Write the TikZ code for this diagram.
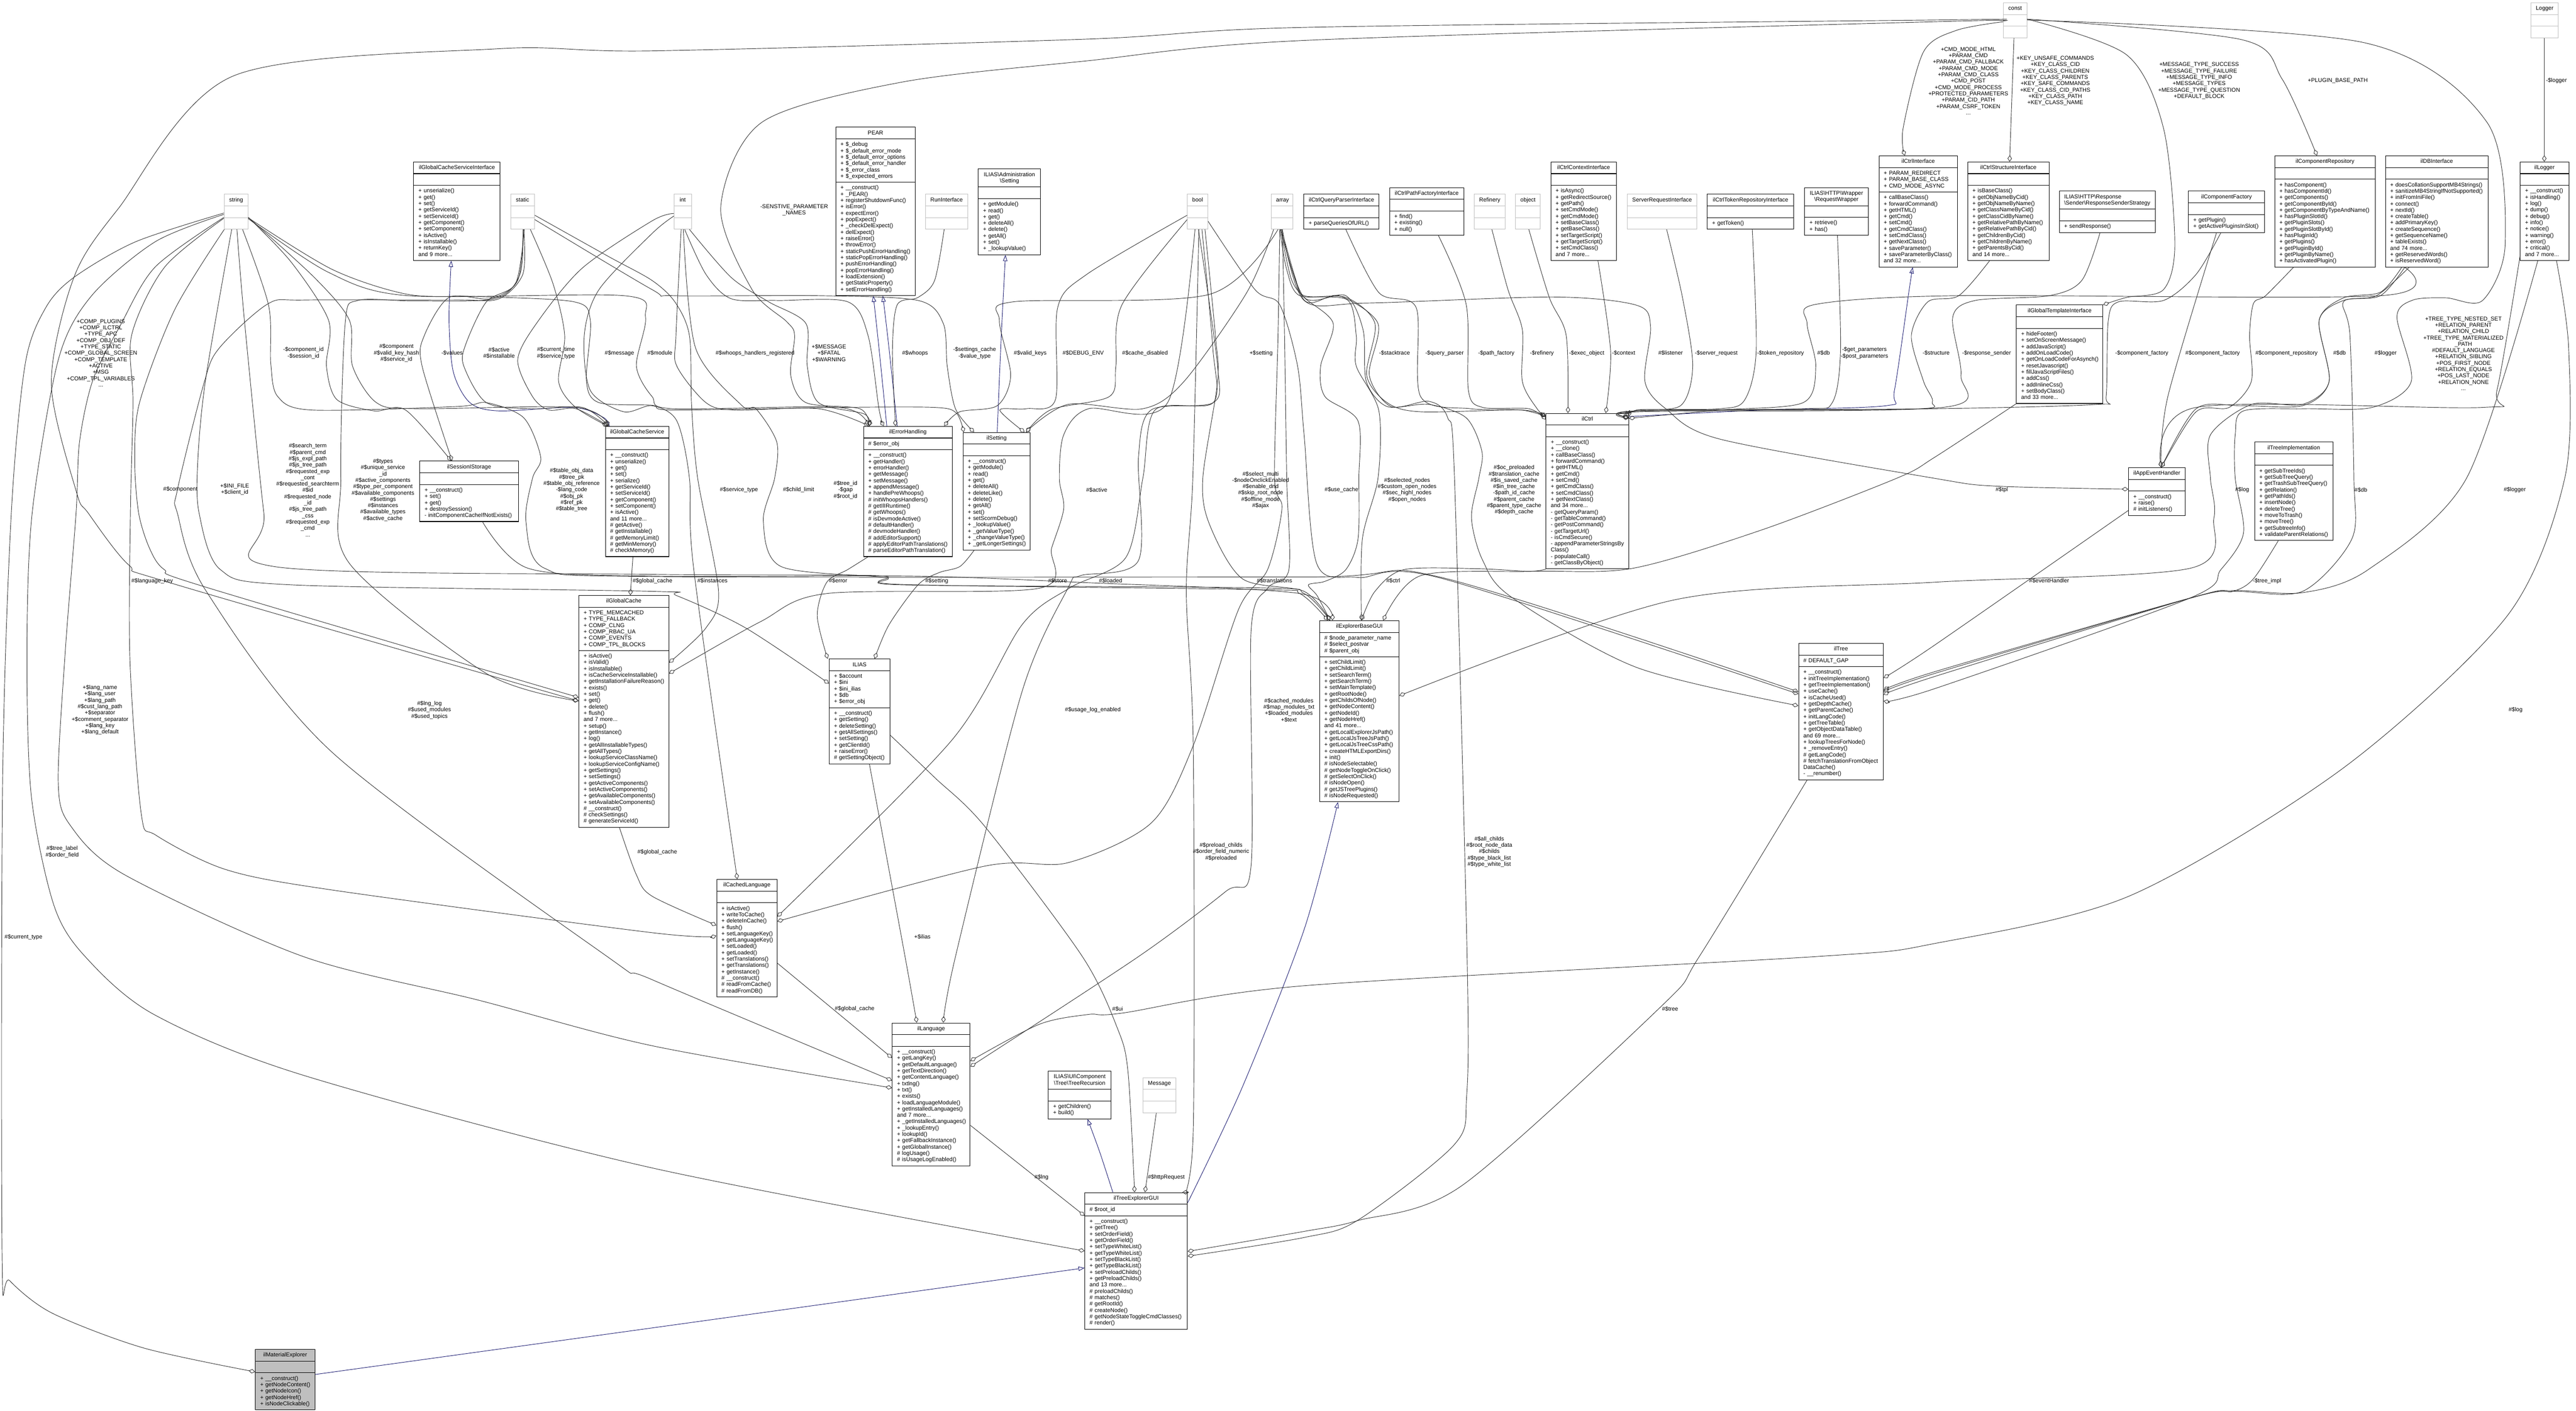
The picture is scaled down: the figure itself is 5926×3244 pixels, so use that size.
\documentclass[tikz,border=0pt]{standalone}
\usepackage{fontspec}
\setmainfont{Liberation Sans}
\usetikzlibrary{arrows.meta,shapes.multipart}

\newcommand{\umlfont}{\fontsize{6.5pt}{7.3pt}\selectfont}
\newcommand{\umlst}{\rule[-1.9pt]{0pt}{7.3pt}}
\newcommand{\umlleft}{\raggedright\rightskip=-30pt plus 1fil\relax}
\newcommand{\umlclass}[7][]{%
  \pgfmathsetmacro{\umlw}{#4*0.5-11}%
  \node[umlclass,text width=\umlw pt,#1] (#2) at (#3) {\centering\umlst #5\umlst\par
    \nodepart{two}\umlleft\umlst #6\umlst\par
    \nodepart{three}\umlleft\umlst #7\umlst\par};}

\definecolor{edgeblue}{RGB}{25,25,112}
\tikzset{
  umlclass/.style={draw=black,line width=.6pt,rectangle split,rectangle split parts=3,anchor=north west,
    inner xsep=5.5pt,inner ysep=2.75pt,font=\umlfont},
  grayclass/.style={draw=black!25},
  focusclass/.style={rectangle split part fill={black!25}},
  edgelabel/.style={font=\umlfont,align=center,inner sep=0pt},
  uses/.style={draw=black!80,line width=.55pt,smooth,tension=.5,-{Diamond[open,length=7.5pt,width=5pt]}},
  derives/.style={draw=edgeblue,line width=.55pt,smooth,tension=.5,-{Triangle[open,length=7pt,width=5pt]}},
}

\begin{document}
\begin{tikzpicture}[x=0.5pt,y=-0.5pt]
\useasboundingbox (0,0) rectangle (5926,3244);

% classes
\umlclass[grayclass]{string}{515,446}{55}{string}{}{}
\umlclass{cacheIface}{951,372}{199}{ilGlobalCacheServiceInterface}{}{+ unserialize()\\+ get()\\+ set()\\+ getServiceId()\\+ setServiceId()\\+ getComponent()\\+ setComponent()\\+ isActive()\\+ isInstallable()\\+ returnKey()\\and 9 more...}
\umlclass[grayclass]{static}{1174,446}{55}{static}{}{}
\umlclass{sessionStorage}{965,1060}{227}{ilSessionIStorage}{}{+ \_\_construct()\\+ set()\\+ get()\\+ destroySession()\\- initComponentCacheIfNotExists()}
\umlclass{cacheService}{1392,980}{146}{ilGlobalCacheService}{}{+ \_\_construct()\\+ unserialize()\\+ get()\\+ set()\\+ serialize()\\+ getServiceId()\\+ setServiceId()\\+ getComponent()\\+ setComponent()\\+ isActive()\\and 11 more...\\\# getActive()\\\# getInstallable()\\\# getMemoryLimit()\\\# getMinMemory()\\\# checkMemory()}
\umlclass{globalCache}{1331,1369}{207}{ilGlobalCache}{+ TYPE\_MEMCACHED\\+ TYPE\_FALLBACK\\+ COMP\_CLNG\\+ COMP\_RBAC\_UA\\+ COMP\_EVENTS\\+ COMP\_TPL\_BLOCKS}{+ isActive()\\+ isValid()\\+ isInstallable()\\+ isCacheServiceInstallable()\\+ getInstallationFailureReason()\\+ exists()\\+ set()\\+ get()\\+ delete()\\+ flush()\\and 7 more...\\+ setup()\\+ getInstance()\\+ log()\\+ getAllInstallableTypes()\\+ getAllTypes()\\+ lookupServiceClassName()\\+ lookupServiceConfigName()\\+ getSettings()\\+ setSettings()\\+ getActiveComponents()\\+ setActiveComponents()\\+ getAvailableComponents()\\+ setAvailableComponents()\\\# \_\_construct()\\\# checkSettings()\\\# generateServiceId()}
\umlclass[grayclass]{int}{1550,446}{40}{int}{}{}
\umlclass{pear}{1922,292}{183}{PEAR}{+ \$\_debug\\+ \$\_default\_error\_mode\\+ \$\_default\_error\_options\\+ \$\_default\_error\_handler\\+ \$\_error\_class\\+ \$\_expected\_errors}{+ \_\_construct()\\+ \_PEAR()\\+ registerShutdownFunc()\\+ isError()\\+ expectError()\\+ popExpect()\\+ \_checkDelExpect()\\+ delExpect()\\+ raiseError()\\+ throwError()\\+ staticPushErrorHandling()\\+ staticPopErrorHandling()\\+ pushErrorHandling()\\+ popErrorHandling()\\+ loadExtension()\\+ getStaticProperty()\\+ setErrorHandling()}
\umlclass[grayclass]{runIface}{2128,446}{98}{RunInterface}{}{}
\umlclass{adminSetting}{2250,388}{143}{ILIAS\textbackslash Administration\\\textbackslash Setting}{}{+ getModule()\\+ read()\\+ get()\\+ deleteAll()\\+ delete()\\+ getAll()\\+ set()\\+ \_lookupValue()}
\umlclass[grayclass]{bool}{2731,446}{47}{bool}{}{}
\umlclass[grayclass]{array}{2924,446}{50}{array}{}{}
\umlclass{errorHandling}{1986,980}{204}{ilErrorHandling}{\# \$error\_obj}{+ \_\_construct()\\+ getHandler()\\+ errorHandler()\\+ getMessage()\\+ setMessage()\\+ appendMessage()\\+ handlePreWhoops()\\\# initWhoopsHandlers()\\\# getIlIRuntime()\\\# getWhoops()\\\# isDevmodeActive()\\\# defaultHandler()\\\# devmodeHandler()\\\# addEditorSupport()\\\# applyEditorPathTranslations()\\\# parseEditorPathTranslation()}
\umlclass{ilSetting}{2215,994}{154}{ilSetting}{}{+ \_\_construct()\\+ getModule()\\+ read()\\+ get()\\+ deleteAll()\\+ deleteLike()\\+ delete()\\+ getAll()\\+ set()\\+ setScormDebug()\\+ \_lookupValue()\\+ \_getValueType()\\+ \_changeValueType()\\+ \_getLongerSettings()}
\umlclass{ilias}{1907,1515}{140}{ILIAS}{+ \$account\\+ \$ini\\+ \$ini\_ilias\\+ \$db\\+ \$error\_obj}{+ \_\_construct()\\+ getSetting()\\+ deleteSetting()\\+ getAllSettings()\\+ setSetting()\\+ getClientId()\\+ raiseError()\\\# getSettingObject()}
\umlclass{cachedLang}{1648,2022}{139}{ilCachedLanguage}{}{+ isActive()\\+ writeToCache()\\+ deleteInCache()\\+ flush()\\+ setLanguageKey()\\+ getLanguageKey()\\+ setLoaded()\\+ getLoaded()\\+ setTranslations()\\+ getTranslations()\\+ getInstance()\\\# \_\_construct()\\\# readFromCache()\\\# readFromDB()}
\umlclass{language}{2052,2352}{179}{ilLanguage}{}{+ \_\_construct()\\+ getLangKey()\\+ getDefaultLanguage()\\+ getTextDirection()\\+ getContentLanguage()\\+ txtlng()\\+ txt()\\+ exists()\\+ loadLanguageModule()\\+ getInstalledLanguages()\\and 7 more...\\+ \_getInstalledLanguages()\\+ \_lookupEntry()\\+ lookupId()\\+ getFallbackInstance()\\+ getGlobalInstance()\\\# logUsage()\\\# isUsageLogEnabled()}
\umlclass{treeRecursion}{2411,2463}{144}{ILIAS\textbackslash UI\textbackslash Component\\\textbackslash Tree\textbackslash TreeRecursion}{}{+ getChildren()\\+ build()}
\umlclass[grayclass]{message}{2629,2478}{75}{Message}{}{}
\umlclass{treeExplorer}{2495,2742}{236}{ilTreeExplorerGUI}{\# \$root\_id}{+ \_\_construct()\\+ getTree()\\+ setOrderField()\\+ getOrderField()\\+ setTypeWhiteList()\\+ getTypeWhiteList()\\+ setTypeBlackList()\\+ getTypeBlackList()\\+ setPreloadChilds()\\+ getPreloadChilds()\\and 13 more...\\\# preloadChilds()\\\# matches()\\\# getRootId()\\\# createNode()\\\# getNodeStateToggleCmdClasses()\\\# render()}
\umlclass[focusclass,fill=black!25]{materialExplorer}{587,3103}{137}{ilMaterialExplorer}{}{+ \_\_construct()\\+ getNodeContent()\\+ getNodeIcon()\\+ getNodeHref()\\+ isNodeClickable()}
\umlclass{queryParser}{2999,446}{173}{ilCtrlQueryParserInterface}{}{+ parseQueriesOfURL()}
\umlclass{pathFactory}{3196,431}{171}{ilCtrlPathFactoryInterface}{}{+ find()\\+ existing()\\+ null()}
\umlclass[grayclass]{refinery}{3391,446}{71}{Refinery}{}{}
\umlclass[grayclass]{object}{3486,446}{57}{object}{}{}
\umlclass{ctrlContext}{3567,372}{151}{ilCtrlContextInterface}{}{+ isAsync()\\+ getRedirectSource()\\+ getPath()\\+ setCmdMode()\\+ getCmdMode()\\+ setBaseClass()\\+ getBaseClass()\\+ setTargetScript()\\+ getTargetScript()\\+ setCmdClass()\\and 7 more...}
\umlclass[grayclass]{serverRequest}{3743,446}{160}{ServerRequestInterface}{}{}
\umlclass{tokenRepo}{3927,446}{199}{ilCtrlTokenRepositoryInterface}{}{+ getToken()}
\umlclass{requestWrapper}{4151,431}{146}{ILIAS\textbackslash HTTP\textbackslash Wrapper\\\textbackslash RequestWrapper}{}{+ retrieve()\\+ has()}
\umlclass{ctrlIface}{4322,358}{180}{ilCtrlInterface}{+ PARAM\_REDIRECT\\+ PARAM\_BASE\_CLASS\\+ CMD\_MODE\_ASYNC}{+ callBaseClass()\\+ forwardCommand()\\+ getHTML()\\+ getCmd()\\+ setCmd()\\+ getCmdClass()\\+ setCmdClass()\\+ getNextClass()\\+ saveParameter()\\+ saveParameterByClass()\\and 32 more...}
\umlclass{ctrl}{3556,950}{190}{ilCtrl}{}{+ \_\_construct()\\+ \_\_clone()\\+ callBaseClass()\\+ forwardCommand()\\+ getHTML()\\+ getCmd()\\+ setCmd()\\+ getCmdClass()\\+ setCmdClass()\\+ getNextClass()\\and 34 more...\\- getQueryParam()\\- getTableCommand()\\- getPostCommand()\\- getTargetUrl()\\- isCmdSecure()\\- appendParameterStringsBy\\Class()\\- populateCall()\\- getClassByObject()}
\umlclass{explorerBase}{3035,1427}{183}{ilExplorerBaseGUI}{\# \$node\_parameter\_name\\\# \$select\_postvar\\\# \$parent\_obj}{+ setChildLimit()\\+ getChildLimit()\\+ setSearchTerm()\\+ getSearchTerm()\\+ setMainTemplate()\\+ getRootNode()\\+ getChildsOfNode()\\+ getNodeContent()\\+ getNodeId()\\+ getNodeHref()\\and 41 more...\\+ getLocalExplorerJsPath()\\+ getLocalJsTreeJsPath()\\+ getLocalJsTreeCssPath()\\+ createHTMLExportDirs()\\+ init()\\\# isNodeSelectable()\\\# getNodeToggleOnClick()\\\# getSelectOnClick()\\\# isNodeOpen()\\\# getJSTreePlugins()\\\# isNodeRequested()}
\umlclass{tree}{4137,1479}{195}{ilTree}{\# DEFAULT\_GAP}{+ \_\_construct()\\+ initTreeImplementation()\\+ getTreeImplementation()\\+ useCache()\\+ isCacheUsed()\\+ getDepthCache()\\+ getParentCache()\\+ initLangCode()\\+ getTreeTable()\\+ getObjectDataTable()\\and 69 more...\\+ lookupTreesForNode()\\+ \_removeEntry()\\\# getLangCode()\\\# fetchTranslationFromObject\\DataCache()\\- \_\_renumber()}
\umlclass[grayclass]{const}{4608,6}{54}{const}{}{}
\umlclass[grayclass]{logger}{5822,6}{62}{Logger}{}{}
\umlclass{ctrlStructure}{4526,372}{187}{ilCtrlStructureInterface}{}{+ isBaseClass()\\+ getObjNameByCid()\\+ getObjNameByName()\\+ getClassNameByCid()\\+ getClassCidByName()\\+ getRelativePathByName()\\+ getRelativePathByCid()\\+ getChildrenByCid()\\+ getChildrenByName()\\+ getParentsByCid()\\and 14 more...}
\umlclass{responseSender}{4737,439}{221}{\raggedright ILIAS\textbackslash HTTP\textbackslash Response\\\textbackslash Sender\textbackslash ResponseSenderStrategy}{}{+ sendResponse()}
\umlclass{componentFactory}{5034,439}{175}{ilComponentFactory}{}{+ getPlugin()\\+ getActivePluginsInSlot()}
\umlclass{componentRepo}{5232,358}{232}{ilComponentRepository}{}{+ hasComponent()\\+ hasComponentId()\\+ getComponents()\\+ getComponentById()\\+ getComponentByTypeAndName()\\+ hasPluginSlotId()\\+ getPluginSlots()\\+ getPluginSlotById()\\+ hasPluginId()\\+ getPlugins()\\+ getPluginById()\\+ getPluginByName()\\+ hasActivatedPlugin()}
\umlclass{dbIface}{5487,358}{236}{ilDBInterface}{}{+ doesCollationSupportMB4Strings()\\+ sanitizeMB4StringIfNotSupported()\\+ initFromIniFile()\\+ connect()\\+ nextId()\\+ createTable()\\+ addPrimaryKey()\\+ createSequence()\\+ getSequenceName()\\+ tableExists()\\and 74 more...\\+ getReservedWords()\\+ isReservedWord()}
\umlclass{ilLogger}{5797,372}{112}{ilLogger}{}{+ \_\_construct()\\+ isHandling()\\+ log()\\+ dump()\\+ debug()\\+ info()\\+ notice()\\+ warning()\\+ error()\\+ critical()\\and 7 more...}
\umlclass{templateIface}{4638,701}{199}{ilGlobalTemplateInterface}{}{+ hideFooter()\\+ setOnScreenMessage()\\+ addJavaScript()\\+ addOnLoadCode()\\+ getOnLoadCodeForAsynch()\\+ resetJavascript()\\+ fillJavaScriptFiles()\\+ addCss()\\+ addInlineCss()\\+ setBodyClass()\\and 33 more...}
\umlclass{eventHandler}{4896,1075}{130}{ilAppEventHandler}{}{+ \_\_construct()\\+ raise()\\\# initListeners()}
\umlclass{treeImpl}{5186,1016}{180}{ilTreeImplementation}{}{+ getSubTreeIds()\\+ getSubTreeQuery()\\+ getTrashSubTreeQuery()\\+ getRelation()\\+ getPathIds()\\+ insertNode()\\+ deleteTree()\\+ moveToTrash()\\+ moveTree()\\+ getSubtreeInfo()\\+ validateParentRelations()}

% inheritance
\draw[derives] plot coordinates {(cacheService.north -| 1402,0) (1388,960) (1320,937) (1148,945) (1081,926) (1043,856) (1033,737) (cacheIface.south -| 1038,0)};
\draw[derives] plot coordinates {(errorHandling.north -| 2040,0) (2022,800) (pear.south -| 2009,0)};
\draw[derives] plot coordinates {(errorHandling.north -| 2064,0) (2045,800) (pear.south -| 2031,0)};
\draw[derives] plot coordinates {(ilSetting.north -| 2294,0) (2303,780) (adminSetting.south -| 2313,0)};
\draw[derives] plot coordinates {(ctrl.east |- 0,958) (4052,943) (4339,933) (4358,898) (4392,666) (ctrlIface.south -| 4400,0)};
\draw[derives] plot coordinates {(treeExplorer.north -| 2560,0) (2530,2650) (treeRecursion.south -| 2502,0)};
\draw[derives] plot coordinates {(treeExplorer.east |- 0,2766) (2858,2500) (3000,2138) (explorerBase.south -| 3078,0)};
\draw[derives] plot coordinates {(materialExplorer.east |- 0,3161) (1500,3054) (treeExplorer.west |- 0,2916)};

% string
\draw[uses] plot coordinates {(string.west |- 0,490) (312,556) (170,638) (105,708) (58,837) (26,1180) (6,1801) (5,2900) (22,2945) (120,3020) (330,3100) (materialExplorer.west |- 0,3155)};
\draw[uses] plot coordinates {(string.west |- 0,493) (357,556) (210,681) (134,828) (74,1180) (62,1500) (72,1830) (124,2082) (196,2200) (354,2333) (698,2473) (1500,2686) (treeExplorer.west |- 0,2877)};
\draw[uses] plot coordinates {(string.west |- 0,500) (357,614) (277,748) (214,873) (183,1016) (175,1180) (150,1500) (134,1801) (163,1900) (287,2012) (698,2200) (1100,2300) (1500,2405) (language.west |- 0,2502)};
\draw[uses] plot coordinates {(string.west |- 0,502) (379,614) (303,770) (306,926) (300,1180) (299,1520) (325,1872) (359,1921) (520,2000) (765,2047) (1500,2145) (cachedLang.west |- 0,2152)};
\draw[uses] plot coordinates {(string.south -| 516,0) (402,712) (321,926) (310,1060) (319,1180) (344,1261) (378,1310) (469,1349) (globalCache.west |- 0,1604)};
\draw[uses] plot coordinates {(string.south -| 533,0) (473,873) (455,1060) (458,1180) (507,1310) (670,1345) (1500,1360) (1557,1370) (1715,1444) (ilias.west |- 0,1572)};
\draw[uses] plot coordinates {(string.south -| 545,0) (562,734) (607,1180) (631,1303) (1500,1321) (2020,1324) (2070,1344) (2900,1356) (2990,1365) (explorerBase.north -| 3055,0)};
\draw[uses] plot coordinates {(string.south -| 558,0) (618,703) (623,837) (639,912) (717,943) (1050,935) (1119,926) (1205,961) (1244,1052) (1225,1100) (1210,1200) (1253,1307) (1500,1326) (3000,1327) (3316,1328) (tree.west |- 0,1591)};
\draw[uses] plot coordinates {(string.east |- 0,500) (670,603) (756,737) (751,842) (775,919) (861,945) (933,943) (sessionStorage.north -| 1038,0)};
\draw[uses] plot coordinates {(string.east |- 0,500) (725,640) (804,737) (811,842) (866,926) (957,940) (1325,937) (cacheService.north -| 1400,0)};
\draw[uses] plot coordinates {(string.east |- 0,501) (765,620) (938,677) (1100,682) (1320,694) (1358,737) (1349,877) (1378,926) (1500,932) (1548,943) (1930,937) (2150,937) (2200,950) (ilSetting.north -| 2217,0)};
\draw[uses] plot coordinates {(string.east |- 0,503) (755,626) (938,680) (1435,680) (1485,729) (1464,842) (1500,912) (1548,940) (1930,937) (errorHandling.north -| 1995,0)};

% static
\draw[uses] plot coordinates {(static.south -| 1205,0) (1203,630) (1148,687) (1050,690) (700,690) (616,699) (504,801) (469,882) (408,1127) (408,1180) (474,1359) (765,1731) (1397,2200) (1500,2253) (language.west |- 0,2485)};
\draw[uses] plot coordinates {(static.south -| 1203,0) (1196,631) (1138,687) (950,692) (823,691) (794,744) (784,1100) (804,1296) (1119,1549) (globalCache.west |- 0,1612)};
\draw[uses] plot coordinates {(static.south -| 1204,0) (1191,645) (1129,687) (1033,684) (976,772) (971,842) (sessionStorage.north -| 1040,0)};
\draw[uses] plot coordinates {(static.south -| 1206,0) (1186,652) (1119,694) (1071,793) (1067,842) (1119,926) (1225,940) (1340,937) (cacheService.north -| 1400,0)};
\draw[uses] plot coordinates {(static.south -| 1220,0) (1272,652) (1299,772) (1285,877) (1322,935) (cacheService.north -| 1398,0)};
\draw[uses] plot coordinates {(static.east |- 0,495) (1400,590) (1500,645) (1553,695) (1586,772) (1591,933) (1605,1100) (1653,1360) (1624,1444) (globalCache.east |- 0,1524)};
\draw[uses] plot coordinates {(static.east |- 0,505) (1500,666) (1548,680) (1883,680) (2112,691) (2170,744) (2179,842) (2198,940) (ilSetting.north -| 2241,0)};
\draw[uses] plot coordinates {(sessionStorage.south -| 1110,0) (1215,1307) (1500,1325) (2100,1325) (2500,1340) (2990,1365) (explorerBase.north -| 3065,0)};

% int
\draw[uses] plot coordinates {(int.west |- 0,491) (1500,508) (1339,617) (1234,744) (1191,828) (1225,912) (1263,943) (1325,940) (cacheService.north -| 1400,0)};
\draw[uses] plot coordinates {(int.west |- 0,497) (1500,537) (1378,666) (1344,772) (1358,898) (1435,947) (1500,933) (1557,968) (1586,1100) (1596,1310) (cachedLang.north -| 1696,0)};
\draw[uses] plot coordinates {(int.south -| 1567,0) (1555,772) (1557,842) (1624,926) (1691,943) (1883,940) (errorHandling.north -| 2000,0)};
\draw[uses] plot coordinates {(int.south -| 1575,0) (1624,631) (1682,687) (1787,691) (1950,694) (1997,772) (2022,940) (errorHandling.north -| 2033,0)};
\draw[uses] plot coordinates {(int.south -| 1586,0) (1682,638) (1768,694) (1854,744) (1857,842) (1883,926) (1988,952) (errorHandling.north -| 2000,0)};
\draw[uses] plot coordinates {(int.south -| 1572,0) (1600,800) (1706,932) (1739,940) (1787,1017) (1782,1100) (1756,1198) (1797,1303) (2036,1328) (2074,1345) (2900,1352) (3000,1365) (explorerBase.north -| 3060,0)};

% single sources into the middle of the picture
\draw[uses] plot coordinates {(runIface.south -| 2172,0) (2150,645) (2112,684) (2064,701) (2053,807) (errorHandling.north -| 2060,0)};
\draw[uses] plot coordinates {(cacheService.south -| 1456,0) (globalCache.north -| 1450,0)};
\draw[uses] plot coordinates {(globalCache.south -| 1425,0) (1464,2012) (1500,2061) (cachedLang.west |- 0,2128)};
\draw[uses] plot coordinates {(errorHandling.south -| 1997,0) (1950,1310) (1902,1339) (1880,1416) (ilias.north -| 1904,0)};
\draw[uses] plot coordinates {(ilSetting.south -| 2241,0) (2208,1303) (2160,1317) (2112,1345) (2045,1437) (ilias.north -| 2012,0)};
\draw[uses] plot coordinates {(ilias.south -| 2000,0) (2082,2200) (language.north -| 2109,0)};
\draw[uses] plot coordinates {(ilias.east |- 0,1691) (2150,1788) (2265,1900) (2490,2200) (2571,2366) (2595,2466) (treeExplorer.north -| 2610,0)};
\draw[uses] plot coordinates {(message.south -| 2660,0) (treeExplorer.north -| 2634,0)};
\draw[uses] plot coordinates {(language.east |- 0,2588) (treeExplorer.west |- 0,2796)};
\draw[uses] plot coordinates {(cachedLang.east |- 0,2215) (language.west |- 0,2433)};
\draw[uses] plot coordinates {(tree.south -| 4157,0) (3909,2200) (3823,2313) (3364,2726) (3124,2807) (3000,2832) (treeExplorer.east |- 0,2878)};

% bool
\draw[uses] plot coordinates {(bool.west |- 0,495) (2500,631) (2433,708) (2428,919) (2361,940) (2300,943) (ilSetting.north -| 2357,0)};
\draw[uses] plot coordinates {(bool.west |- 0,505) (2581,701) (2567,842) (2552,912) (2418,942) (ilSetting.north -| 2361,0)};
\draw[uses] plot coordinates {(bool.south -| 2749,0) (2686,926) (2504,940) (2447,1000) (2437,1100) (2447,1170) (2419,1261) (2390,1353) (1902,1365) (1749,1430) (globalCache.east |- 0,1549)};
\draw[uses] plot coordinates {(bool.south -| 2757,0) (2801,842) (2791,926) (2648,943) (2619,1052) (2619,1289) (2485,1324) (2457,1352) (2351,1591) (2198,2200) (language.north -| 2170,0)};
\draw[uses] plot coordinates {(bool.south -| 2765,0) (2790,800) (2791,926) (2657,943) (2629,1100) (2590,1282) (2461,1352) (2351,1437) (2189,1703) (cachedLang.east |- 0,2108)};
\draw[uses] plot coordinates {(bool.south -| 2772,0) (2796,772) (2801,877) (2767,1100) (2782,1205) (2858,1331) (3000,1360) (explorerBase.north -| 3060,0)};
\draw[uses] plot coordinates {(bool.south -| 2758,0) (2744,1100) (2729,1360) (2745,1717) (2745,2600) (treeExplorer.north -| 2720,0)};
\draw[uses] plot coordinates {(bool.east |- 0,509) (2887,666) (2944,701) (2985,842) (3000,1000) (3029,1296) (3124,1328) (3316,1330) (tree.west |- 0,1596)};

% array
\draw[uses] plot coordinates {(array.south -| 2940,0) (2782,677) (2332,694) (2299,737) (2325,863) (2294,933) (2208,947) (errorHandling.north -| 2172,0)};
\draw[uses] plot coordinates {(array.south -| 2930,0) (2868,673) (2724,877) (2629,940) (2457,930) (ilSetting.north -| 2360,0)};
\draw[uses] plot coordinates {(array.south -| 2944,0) (2940,772) (2932,1100) (2949,1170) (2916,1310) (2849,1402) (2744,1717) (2648,1893) (2457,1984) (2265,1992) (cachedLang.east |- 0,2119)};
\draw[uses] plot coordinates {(array.south -| 2950,0) (2955,772) (2960,1100) (2965,1310) (2916,1353) (2878,1451) (2878,1991) (2820,2050) (2619,2200) (language.east |- 0,2453)};
\draw[uses] plot coordinates {(array.south -| 2944,0) (2960,620) (2990,680) (3096,684) (3163,744) (3144,863) (3191,926) (3268,947) (3500,943) (ctrl.west |- 0,958)};
\draw[uses] plot coordinates {(array.south -| 2948,0) (2980,640) (3000,680) (3100,690) (3120,772) (3120,842) (3172,945) (3170,1100) (3134,1240) (explorerBase.north -| 3132,0)};
\draw[uses] plot coordinates {(array.south -| 2946,0) (2970,640) (3000,684) (3067,744) (3038,842) (3048,912) (3124,968) (3126,1100) (3124,1240) (3096,1310) (3048,1337) (3010,1345) (3030,1370) (explorerBase.north -| 3060,0)};
\draw[uses] plot coordinates {(array.south -| 2946,0) (3000,684) (3096,680) (3136,760) (3143,877) (3191,935) (3287,930) (3373,961) (3409,1038) (3402,1100) (3385,1191) (3411,1289) (3478,1374) (3765,1535) (tree.west |- 0,1623)};
\draw[uses] plot coordinates {(array.south -| 2946,0) (3000,690) (3080,680) (3170,744) (3150,863) (3200,935) (3287,923) (3330,960) (3346,1100) (3375,2200) (3374,2520) (3345,2633) (3124,2806) (3000,2846) (treeExplorer.east |- 0,2889)};
\draw[uses] plot coordinates {(array.south -| 2950,0) (3000,691) (3144,697) (3574,683) (3765,702) (3797,751) (3784,877) (3832,940) (3957,1010) (4450,1100) (4591,1118) (eventHandler.west |- 0,1125)};

% ilCtrl
\draw[uses] plot coordinates {(queryParser.south -| 3096,0) (3172,673) (3258,708) (3268,912) (3383,940) (3500,943) (ctrl.west |- 0,958)};
\draw[uses] plot coordinates {(pathFactory.south -| 3309,0) (3373,701) (3378,898) (3411,937) (3517,940) (ctrl.west |- 0,965)};
\draw[uses] plot coordinates {(refinery.south -| 3432,0) (3469,666) (3502,758) (3502,877) (3536,940) (ctrl.west |- 0,958)};
\draw[uses] plot coordinates {(object.south -| 3517,0) (3564,684) (3603,772) (ctrl.north -| 3607,0)};
\draw[uses] plot coordinates {(ctrlContext.south -| 3676,0) (3705,807) (ctrl.north -| 3694,0)};
\draw[uses] plot coordinates {(serverRequest.south -| 3834,0) (3871,687) (3894,842) (3866,933) (3765,943) (ctrl.east |- 0,958)};
\draw[uses] plot coordinates {(tokenRepo.south -| 4031,0) (4040,807) (4014,919) (3957,940) (3770,943) (ctrl.east |- 0,958)};
\draw[uses] plot coordinates {(dbIface.south -| 5532,0) (5476,680) (4500,680) (4177,700) (4157,744) (4177,842) (4148,926) (3957,943) (ctrl.east |- 0,962)};
\draw[uses] plot coordinates {(requestWrapper.south -| 4227,0) (4234,807) (4215,926) (4148,940) (3770,945) (ctrl.east |- 0,962)};
\draw[uses] plot coordinates {(ctrlStructure.south -| 4577,0) (4506,680) (4435,694) (4397,772) (4425,877) (4445,925) (4390,941) (3770,945) (ctrl.east |- 0,960)};
\draw[uses] plot coordinates {(responseSender.south -| 4831,0) (4789,645) (4714,680) (4544,691) (4492,730) (4511,863) (4469,937) (3770,947) (ctrl.east |- 0,962)};
\draw[uses] plot coordinates {(componentFactory.south -| 5109,0) (5052,631) (4977,691) (4874,694) (4850,737) (4845,912) (4826,930) (4450,940) (3770,945) (ctrl.east |- 0,960)};

% ilAppEventHandler, ilExplorerBaseGUI, ilTree
\draw[uses] plot coordinates {(componentFactory.south -| 5099,0) (4987,912) (eventHandler.north -| 4971,0)};
\draw[uses] plot coordinates {(componentRepo.south -| 5276,0) (5212,680) (5184,698) (5175,772) (5179,877) (5128,937) (5052,947) (eventHandler.north -| 4972,0)};
\draw[uses] plot coordinates {(dbIface.south -| 5532,0) (5476,680) (5391,691) (5335,737) (5358,877) (5297,933) (5156,933) (5052,940) (eventHandler.north -| 4972,0)};
\draw[uses] plot coordinates {(ilLogger.west |- 0,590) (5744,898) (5711,937) (5052,937) (eventHandler.north -| 4972,0)};
\draw[uses] plot coordinates {(dbIface.south -| 5525,0) (5476,672) (5391,685) (5335,737) (5358,877) (5297,930) (5180,930) (5085,1000) (5085,1100) (5093,1191) (5038,1307) (4450,1339) (3850,1380) (explorerBase.east |- 0,1600)};
\draw[uses] plot coordinates {(templateIface.south -| 4638,0) (4450,1052) (4363,1100) (4052,1219) (3756,1307) (3526,1314) (3268,1324) (explorerBase.north -| 3182,0)};
\draw[uses] plot coordinates {(ctrl.south -| 3556,0) (3517,1314) (3400,1308) (3230,1310) (3163,1360) (explorerBase.north -| 3132,0)};
\draw[uses] plot coordinates {(eventHandler.west |- 0,1174) (4450,1484) (tree.east |- 0,1559)};
\draw[uses] plot coordinates {(treeImpl.south -| 5241,0) (5184,1331) (5137,1360) (5043,1374) (4450,1545) (tree.east |- 0,1588)};
\draw[uses] plot coordinates {(dbIface.south -| 5542,0) (5467,680) (5391,694) (5406,772) (5415,1100) (5410,1240) (5297,1360) (5137,1360) (5034,1377) (4450,1549) (tree.east |- 0,1592)};
\draw[uses] plot coordinates {(ilLogger.south -| 5838,0) (5674,1100) (5448,1310) (5297,1363) (5137,1358) (5034,1377) (4450,1556) (tree.east |- 0,1598)};
\draw[uses] plot coordinates {(ilLogger.south -| 5881,0) (5909,800) (5900,1100) (5768,1416) (5391,1766) (4900,2060) (4450,2170) (4177,2200) (3000,2267) (2581,2330) (2504,2333) (2390,2356) (language.east |- 0,2440)};

% const
\draw[uses] plot coordinates {(const.west |- 0,44) (4450,46) (3000,63) (2500,90) (1500,117) (1148,112) (536,175) (272,480) (170,638) (118,882) (176,1132) (203,1180) (297,1300) (397,1342) (globalCache.west |- 0,1612)};
\draw[uses] plot coordinates {(const.west |- 0,48) (4450,50) (3000,93) (2500,140) (2074,189) (1753,281) (1658,477) (1730,666) (1810,740) (1828,772) (1819,863) (1854,926) (1978,940) (errorHandling.north -| 2000,0)};
\draw[uses] plot coordinates {(const.west |- 0,50) (4500,70) (4425,119) (4378,295) (ctrlIface.north -| 4382,0)};
\draw[uses] plot coordinates {(const.south -| 4633,0) (ctrlStructure.north -| 4623,0)};
\draw[uses] plot coordinates {(const.east |- 0,44) (5156,91) (5250,182) (componentRepo.north -| 5330,0)};
\draw[uses] plot coordinates {(const.east |- 0,44) (4892,126) (4977,295) (5003,561) (4977,666) (4892,684) (templateIface.east |- 0,701)};
\draw[uses] plot coordinates {(const.east |- 0,46) (5438,98) (5721,281) (5763,561) (5711,691) (5627,685) (5551,690) (5514,729) (5547,877) (5457,937) (5300,940) (5161,945) (5142,1000) (5142,1100) (5161,1226) (5109,1310) (5034,1377) (4450,1584) (tree.east |- 0,1612)};
\draw[uses] plot coordinates {(logger.south -| 5853,0) (ilLogger.north -| 5853,0)};

% labels
\node[edgelabel] (lComp) at (232,812) {+COMP\_PLUGINS\\+COMP\_ILCTRL\\+TYPE\_APC\\+COMP\_OBJ\_DEF\\+TYPE\_STATIC\\+COMP\_GLOBAL\_SCREEN\\+COMP\_TEMPLATE\\+ACTIVE\\+MSG\\+COMP\_TPL\_VARIABLES\\...};
\node[edgelabel] (lSessId) at (698,812) {-\$component\_id\\-\$session\_id};
\node[edgelabel] (lValidKey) at (912,812) {\#\$component\\\#\$valid\_key\_hash\\\#\$service\_id};
\node[edgelabel] (lValues) at (1040,812) {-\$values};
\node[edgelabel] (lActive) at (1148,812) {\#\$active\\\#\$installable};
\node[edgelabel] (lTime) at (1279,812) {\#\$current\_time\\\#\$service\_type};
\node[edgelabel] (lMessage) at (1425,812) {\#\$message};
\node[edgelabel] (lModule) at (1518,812) {\#\$module};
\node[edgelabel] (lHandlers) at (1737,812) {\#\$whoops\_handlers\_registered};
\node[edgelabel] (lFatal) at (1907,812) {+\$MESSAGE\\+\$FATAL\\+\$WARNING};
\node[edgelabel] (lWhoops) at (2105,812) {\#\$whoops};
\node[edgelabel] (lSettings) at (2242,812) {-\$settings\_cache\\-\$value\_type};
\node[edgelabel] (lValidKeys) at (2370,812) {\#\$valid\_keys};
\node[edgelabel] (lDebug) at (2492,812) {\#\$DEBUG\_ENV};
\node[edgelabel] (lCacheOff) at (2634,812) {\#\$cache\_disabled};
\node[edgelabel] (lSetPub) at (2901,812) {+\$setting};
\node[edgelabel] (lStack) at (3208,812) {-\$stacktrace};
\node[edgelabel] (lQuery) at (3323,812) {-\$query\_parser};
\node[edgelabel] (lPath) at (3442,812) {-\$path\_factory};
\node[edgelabel] (lRefinery) at (3547,812) {-\$refinery};
\node[edgelabel] (lExec) at (3650,812) {-\$exec\_object};
\node[edgelabel] (lContext) at (3735,812) {-\$context};
\node[edgelabel] (lListener) at (3843,812) {\#\$listener};
\node[edgelabel] (lServer) at (3948,812) {-\$server\_request};
\node[edgelabel] (lToken) at (4096,812) {-\$token\_repository};
\node[edgelabel] (lDbCtrl) at (4195,812) {\#\$db};
\node[edgelabel] (lParams) at (4289,812) {-\$get\_parameters\\-\$post\_parameters};
\node[edgelabel] (lStruct) at (4454,812) {-\$structure};
\node[edgelabel] (lSender) at (4570,812) {-\$response\_sender};
\node[edgelabel] (lFactoryA) at (4927,812) {-\$component\_factory};
\node[edgelabel] (lFactoryB) at (5090,812) {\#\$component\_factory};
\node[edgelabel] (lRepo) at (5260,812) {\#\$component\_repository};
\node[edgelabel] (lDbEvent) at (5382,812) {\#\$db};
\node[edgelabel] (lLogEvent) at (5488,812) {\#\$logger};
\node[edgelabel] (lTreeConst) at (5667,813) {+TREE\_TYPE\_NESTED\_SET\\+RELATION\_PARENT\\+RELATION\_CHILD\\+TREE\_TYPE\_MATERIALIZED\\\_PATH\\\#DEFAULT\_LANGUAGE\\+RELATION\_SIBLING\\+POS\_FIRST\_NODE\\+RELATION\_EQUALS\\+POS\_LAST\_NODE\\+RELATION\_NONE\\...};
\node[edgelabel] (lSensitive) at (1827,483) {-SENSTIVE\_PARAMETER\\\_NAMES};
\node[edgelabel] (lCmd) at (4528,186) {+CMD\_MODE\_HTML\\+PARAM\_CMD\\+PARAM\_CMD\_FALLBACK\\+PARAM\_CMD\_MODE\\+PARAM\_CMD\_CLASS\\+CMD\_POST\\+CMD\_MODE\_PROCESS\\+PROTECTED\_PARAMETERS\\+PARAM\_CID\_PATH\\+PARAM\_CSRF\_TOKEN\\...};
\node[edgelabel] (lKey) at (4728,186) {+KEY\_UNSAFE\_COMMANDS\\+KEY\_CLASS\_CID\\+KEY\_CLASS\_CHILDREN\\+KEY\_CLASS\_PARENTS\\+KEY\_SAFE\_COMMANDS\\+KEY\_CLASS\_CID\_PATHS\\+KEY\_CLASS\_PATH\\+KEY\_CLASS\_NAME};
\node[edgelabel] (lMsgType) at (5059,186) {+MESSAGE\_TYPE\_SUCCESS\\+MESSAGE\_TYPE\_FAILURE\\+MESSAGE\_TYPE\_INFO\\+MESSAGE\_TYPES\\+MESSAGE\_TYPE\_QUESTION\\+DEFAULT\_BLOCK};
\node[edgelabel] (lPlugin) at (5378,186) {+PLUGIN\_BASE\_PATH};
\node[edgelabel] (lLogger) at (5881,186) {-\$logger};
\node[edgelabel] (lIni) at (540,1125) {+\$INI\_FILE\\+\$client\_id};
\node[edgelabel] (lCompB) at (415,1126) {\#\$component};
\node[edgelabel] (lSearch) at (708,1127) {\#\$search\_term\\\#\$parent\_cmd\\\#\$js\_expl\_path\\\#\$js\_tree\_path\\\#\$requested\_exp\\\_cont\\\#\$requested\_searchterm\\\#\$id\\\#\$requested\_node\\\_id\\\#\$js\_tree\_path\\\_css\\\#\$requested\_exp\\\_cmd\\...};
\node[edgelabel] (lTypes) at (881,1127) {\#\$types\\\#\$unique\_service\\\_id\\\#\$active\_components\\\#\$type\_per\_component\\\#\$available\_components\\\#\$settings\\\#\$instances\\\#\$available\_types\\\#\$active\_cache};
\node[edgelabel] (lTreePk) at (1315,1127) {\#\$table\_obj\_data\\\#\$tree\_pk\\\#\$table\_obj\_reference\\-\$lang\_code\\\#\$obj\_pk\\\#\$ref\_pk\\\#\$table\_tree};
\node[edgelabel] (lService) at (1700,1127) {\#\$service\_type};
\node[edgelabel] (lChild) at (1837,1127) {\#\$child\_limit};
\node[edgelabel] (lGap) at (1945,1127) {\#\$tree\_id\\-\$gap\\\#\$root\_id};
\node[edgelabel] (lActiveB) at (2523,1127) {\#\$active};
\node[edgelabel] (lSelect) at (2900,1127) {\#\$select\_multi\\-\$nodeOnclickEnabled\\\#\$enable\_dnd\\\#\$skip\_root\_node\\\#\$offline\_mode\\\#\$ajax};
\node[edgelabel] (lUse) at (3086,1127) {\#\$use\_cache};
\node[edgelabel] (lSelected) at (3237,1127) {\#\$selected\_nodes\\\#\$custom\_open\_nodes\\\#\$sec\_highl\_nodes\\\#\$open\_nodes};
\node[edgelabel] (lSaved) at (3483,1127) {\#\$oc\_preloaded\\\#\$translation\_cache\\\#\$is\_saved\_cache\\\#\$in\_tree\_cache\\-\$path\_id\_cache\\\#\$parent\_cache\\\#\$parent\_type\_cache\\\#\$depth\_cache};
\node[edgelabel] (lTpl) at (4605,1127) {\#\$tpl};
\node[edgelabel] (lLogTree) at (5158,1127) {\#\$log};
\node[edgelabel] (lDbTree) at (5431,1127) {\#\$db};
\node[edgelabel] (lLogTreeB) at (5785,1127) {\#\$logger};
\node[edgelabel] (lLangKey) at (350,1336) {\#\$language\_key};
\node[edgelabel] (lGcA) at (1501,1336) {\#\$global\_cache};
\node[edgelabel] (lInstances) at (1639,1336) {\#\$instances};
\node[edgelabel] (lError) at (1928,1336) {\#\$error};
\node[edgelabel] (lSetting) at (2155,1336) {\#\$setting};
\node[edgelabel] (lStore) at (2433,1336) {\#\$store};
\node[edgelabel] (lLoaded) at (2555,1336) {\#\$loaded};
\node[edgelabel] (lTrans) at (2932,1336) {\#\$translations};
\node[edgelabel] (lCtrl) at (3205,1336) {\#\$ctrl};
\node[edgelabel] (lEvent) at (4714,1336) {\#\$eventHandler};
\node[edgelabel] (lImpl) at (5215,1336) {-\$tree\_impl};
\node[edgelabel] (lLangName) at (230,1633) {+\$lang\_name\\+\$lang\_user\\+\$lang\_path\\\#\$cust\_lang\_path\\+\$separator\\+\$comment\_separator\\+\$lang\_key\\+\$lang\_default};
\node[edgelabel] (lLngLog) at (988,1633) {\#\$lng\_log\\\#\$used\_modules\\\#\$used\_topics};
\node[edgelabel] (lUsage) at (2514,1633) {\#\$usage\_log\_enabled};
\node[edgelabel] (lModules) at (2965,1633) {\#\$cached\_modules\\\#\$map\_modules\_txt\\+\$loaded\_modules\\+\$text};
\node[edgelabel] (lLogBig) at (5787,1633) {\#\$log};
\node[edgelabel] (lTreeLabel) at (143,1959) {\#\$tree\_label\\\#\$order\_field};
\node[edgelabel] (lGcB) at (1512,1960) {\#\$global\_cache};
\node[edgelabel] (lPreload) at (2809,1959) {\#\$preload\_childs\\\#\$order\_field\_numeric\\\#\$preloaded};
\node[edgelabel] (lAll) at (3426,1959) {\#\$all\_childs\\\#\$root\_node\_data\\\#\$childs\\\#\$type\_black\_list\\\#\$type\_white\_list};
\node[edgelabel] (lCurrent) at (54,2155) {\#\$current\_type};
\node[edgelabel] (lIlias) at (2122,2155) {+\$ilias};
\node[edgelabel] (lGcC) at (1966,2320) {\#\$global\_cache};
\node[edgelabel] (lUi) at (2571,2320) {\#\$ui};
\node[edgelabel] (lTreeB) at (3842,2320) {\#\$tree};
\node[edgelabel] (lLng) at (2396,2708) {\#\$lng};
\node[edgelabel] (lHttp) at (2683,2708) {\#\$httpRequest};
\end{tikzpicture}
\end{document}
